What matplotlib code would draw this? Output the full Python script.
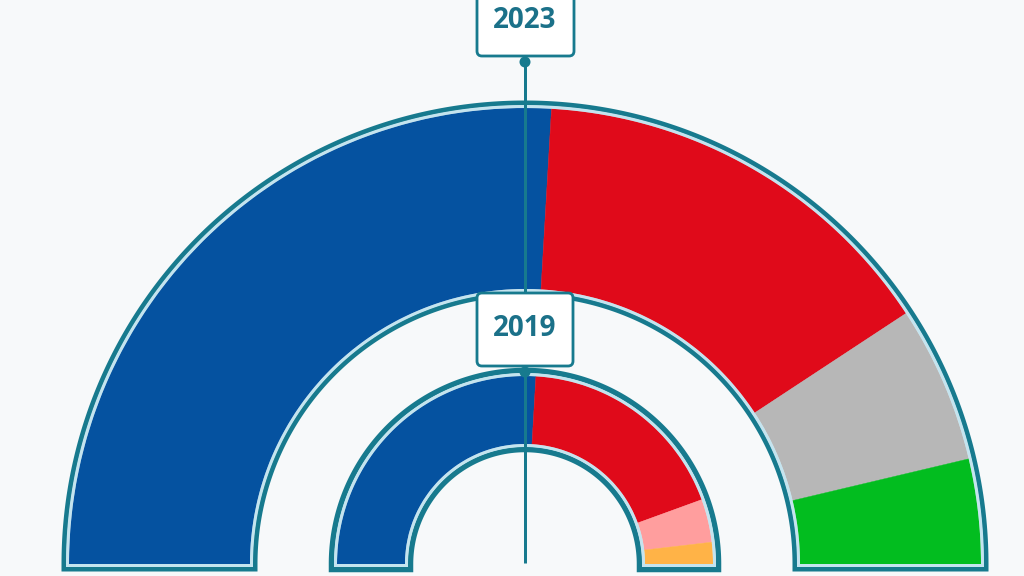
import numpy as np
import matplotlib
matplotlib.use("Agg")
import matplotlib.pyplot as plt
from matplotlib.patches import Polygon, FancyBboxPatch, Circle

# ---- data ----
years = ["2023", "2019"]
parties_2023 = ["Azul", "Rojo", "Gris", "Verde"]
seats_2023 = [14, 8, 3, 2]
colors_2023 = ["#0552a0", "#e00a1a", "#b7b7b7", "#02bd1f"]
parties_2019 = ["Azul", "Rojo", "Rosa", "Naranja"]
seats_2019 = [14, 10, 2, 1]
colors_2019 = ["#0552a0", "#e00a1a", "#ff9e9e", "#ffb347"]

BG = "#f7f9fa"
TEAL = "#177a8e"
LIGHT = "#c4e4ef"

W, H = 1024, 576
fig = plt.figure(figsize=(W / 100, H / 100), dpi=100, facecolor=BG)
ax = fig.add_axes([0, 0, 1, 1])
ax.set_facecolor(BG)

xc, yc = 525, 576 - 564


def px(v):
    return v * 72 / 100


def half_donut(values, colors, R, r):
    total = sum(values)
    vals = list(values) + [total]
    cols = list(colors) + ["none"]
    wedges, _ = ax.pie(vals, colors=cols, startangle=180, counterclock=False,
                       radius=R, center=(xc, yc),
                       wedgeprops=dict(width=R - r, linewidth=0))
    for w, c in zip(wedges, cols):
        w.set_zorder(2)
        if c != "none":
            w.set_edgecolor(c)
            w.set_linewidth(0.3)
    wedges[-1].set_visible(False)


def frame(R, r, off, lw, color, z):
    t = np.linspace(0, np.pi, 300)
    pts = []
    pts.append((xc + R + off, yc - off))
    pts += list(zip(xc + (R + off) * np.cos(t), yc + (R + off) * np.sin(t)))
    pts.append((xc - R - off, yc - off))
    pts.append((xc - r + off, yc - off))
    pts += list(zip(xc + (r - off) * np.cos(t[::-1]), yc + (r - off) * np.sin(t[::-1])))
    pts.append((xc + r - off, yc - off))
    p = Polygon(pts, closed=True, fill=False, edgecolor=color,
                linewidth=px(lw), joinstyle="miter", zorder=z)
    ax.add_patch(p)


# outer donut (2023)
R1, r1 = 456, 275
half_donut(seats_2023, colors_2023, R1, r1)
frame(R1, r1, 5.0, 5.0, TEAL, 3)
frame(R1, r1, 1.5, 3, LIGHT, 3.1)

# inner donut (2019)
R2, r2 = 188, 120
half_donut(seats_2019, colors_2019, R2, r2)
frame(R2, r2, 5.5, 5.5, TEAL, 3)
frame(R2, r2, 1.5, 3, LIGHT, 3.1)

# vertical connector line
ax.plot([xc, xc], [576 - 62, 576 - 563], color=TEAL, lw=px(3), zorder=4,
        solid_capstyle="butt")

# label boxes
boxes = {
    "2023": dict(x0=477, x1=574, y0=-12, y1=56, ty=20, dot=62),
    "2019": dict(x0=477, x1=573, y0=293, y1=366, ty=329, dot=372),
}
for yr in years:
    b = boxes[yr]
    fb = FancyBboxPatch((b["x0"], 576 - b["y1"]), b["x1"] - b["x0"], b["y1"] - b["y0"],
                        boxstyle="round,pad=0,rounding_size=5",
                        facecolor="white", edgecolor=TEAL, linewidth=px(2.8), zorder=6)
    ax.add_patch(fb)
    ax.add_patch(Circle((xc, 576 - b["dot"]), 5.5, facecolor=TEAL, edgecolor="none", zorder=5))
    ax.text(xc, 576 - b["ty"], yr, ha="center", va="center", color="#1b7189",
            fontsize=20, fontweight="bold", family=["Open Sans", "DejaVu Sans"], zorder=7)

ax.set_xlim(0, W)
ax.set_ylim(0, H)
ax.set_aspect("equal")
ax.axis("off")
fig.savefig("out.png", dpi=100, facecolor=BG)
